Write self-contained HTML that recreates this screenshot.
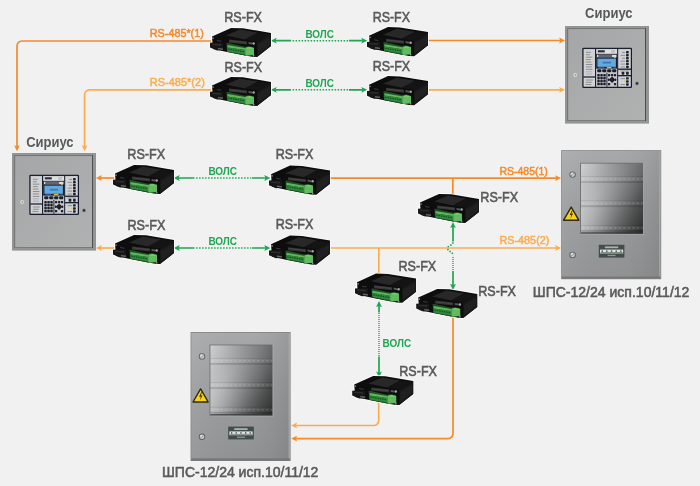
<!DOCTYPE html>
<html lang="ru">
<head>
<meta charset="utf-8">
<title>RS-FX</title>
<style>
  html, body { margin: 0; padding: 0; background: #f1f1f1; }
  body { width: 700px; height: 486px; overflow: hidden; font-family: "Liberation Sans", sans-serif; }
  svg { display: block; will-change: transform; }
  text { font-family: "Liberation Sans", sans-serif; }
  .lbl { fill: #58595b; font-size: 14.3px; stroke: #58595b; stroke-width: 0.55px; }
  .ttl { fill: #58595b; font-size: 14.5px; font-weight: bold; }
  .o1 { fill: #f58a28; font-size: 11.2px; stroke: #f58a28; stroke-width: 0.5px; }
  .o2 { fill: #fbad4e; font-size: 11.2px; stroke: #fbad4e; stroke-width: 0.5px; }
  .g  { fill: #1ea651; font-size: 11.5px; font-weight: bold; }
  .lo1 { stroke: #f58a28; stroke-width: 1.7; fill: none; }
  .lo2 { stroke: #fbad4e; stroke-width: 1.7; fill: none; }
  .lg  { stroke: #1ea651; stroke-width: 1.7; fill: none; }
  .lgd { stroke: #1ea651; stroke-width: 1.6; fill: none; stroke-dasharray: 1.5 1.5; }
  .ao1 { fill: #f58a28; }
  .ao2 { fill: #fbad4e; }
  .ag  { fill: #1ea651; }
</style>
</head>
<body>
<svg width="700" height="486" viewBox="0 0 700 486">
<defs>
  <!-- RS-FX device, 62 x 30 -->
  <g id="dev">
    <path d="M3,9 L22,0.4 L34,0.8 L62,5.4 L62,18.6 L48,29.6 L43,29.2 L18,24.6 L4,21.6 L1,20 L1,15.3 L3,15 Z" fill="#fafafa" stroke="#fafafa" stroke-width="1.6" stroke-linejoin="round"/>
    <path d="M3,9 L22,0.4 L34,0.8 L62,5.4 L62,18.6 L48,29.6 L43,29.2 L18,24.6 L4,21.6 Z" fill="#0d0d0d"/>
    <path d="M48,14.6 L62,5.8 L62,18.6 L48,29.6 Z" fill="#181818"/>
    <path d="M49,16.5 L61,9.2 L61,17.6 L49,26.4 Z" fill="#202020"/>
    <path d="M17,8 L31,2 L49,5 L36,12 Z" fill="#282828"/>
    <path d="M36,12 L49,5 L61.4,6.8 L48.4,14.2 Z" fill="#141414"/>
    <path d="M1,15.3 L4,15 L14,15.4 L14,22.5 L8,23 L1,20 Z" fill="#171717"/>
    <path d="M8,12.6 L12.4,13.2 L12.4,14.2 L8,13.6 Z" fill="#3c3c3c"/>
    <path d="M3,16.2 L12,16.6 L12,18.2 L3,17.6 Z" fill="#2c2c2c"/>
    <path d="M9,20.4 L14,21 L14,22.4 L9,21.8 Z" fill="#666"/>
    <path d="M20,12 L38,14 L38,17 L20,15 Z" fill="#363636"/>
    <path d="M21,13 L37,14.8 L37,15.6 L21,13.8 Z" fill="#4a4a4a"/>
    <path d="M39.5,14.4 L43,15 L43,17 L39.5,16.4 Z" fill="#555"/>
    <path d="M17.4,15.6 L18.6,15.3 L36,19.2 L40,18.6 L45,20 L45,27.6 L37,28.2 L18,24.2 Z" fill="#1d4f24"/>
    <path d="M18.4,17.5 L36,20.6 L36,22.6 L18.4,19.9 Z" fill="#5cb85a"/>
    <path d="M18.4,19.9 L36,22.6 L36,27 L18.4,23.9 Z" fill="#2f8a3b"/>
    <path d="M19.2,21.6 L35.4,24.3" stroke="#17501f" stroke-width="1.3" stroke-dasharray="1.4 1" fill="none"/>
    <path d="M36.2,20.6 L40,19.6 L45,20.6 L45,27.6 L37,28.2 L36.2,27 Z" fill="#5fbc5d"/>
    <path d="M36.2,20.6 L40,19.6 L45,20.6 L41,21.6 Z" fill="#74cc6e"/>
    <circle cx="39.4" cy="24.6" r="0.9" fill="#a99a8c"/>
    <circle cx="4" cy="10.6" r="0.9" fill="#8a8a8a"/>
    <circle cx="44.6" cy="16" r="1.25" fill="#a6a6a6"/>
    <circle cx="44.6" cy="28" r="0.9" fill="#8a8a8a"/>
  </g>

  <!-- Sirius panel, 84 x 98 -->
  <linearGradient id="sface" x1="0" y1="0" x2="1" y2="1">
    <stop offset="0" stop-color="#a5a6a7"/>
    <stop offset="1" stop-color="#b0b2b2"/>
  </linearGradient>
  <g id="sirius">
    <rect x="0" y="0" width="84" height="97.6" fill="#939494"/>
    <rect x="2.1" y="2.1" width="78.9" height="92.9" fill="#747476"/>
    <rect x="80" y="2.1" width="1" height="92.9" fill="#4c4c52"/>
    <rect x="3.2" y="3.1" width="76.8" height="91" fill="url(#sface)"/>
    <!-- latch left / lock right -->
    <circle cx="10.2" cy="49" r="1.9" fill="#dedacd"/><circle cx="10.4" cy="49" r="0.8" fill="#8a8270"/>
    <circle cx="72" cy="57.4" r="1.9" fill="#77787a"/><circle cx="72" cy="57.4" r="1.1" fill="#2c2c30"/>
    <!-- control face 50 x 41 -->
    <g transform="translate(17.3,21.7) scale(0.994,0.976)">
      <rect x="0" y="0" width="50" height="41.2" rx="1.2" fill="#171c2c"/>
      <rect x="1.3" y="1.3" width="47.4" height="38.6" fill="#bcbec2"/>
      <!-- left column -->
      <rect x="1.6" y="1.8" width="11.2" height="27.6" fill="#d0d2d4"/>
      <rect x="1.6" y="30.6" width="11.2" height="9" fill="#d0d2d4"/>
      <rect x="12.8" y="1" width="1.1" height="39" fill="#171c2c"/>
      <rect x="1" y="29.4" width="12" height="1.2" fill="#171c2c"/>
      <g fill="#8a8d93">
        <rect x="3.6" y="4.2" width="5" height="1"/><rect x="3.6" y="6.7" width="4" height="1"/>
        <rect x="3.6" y="9.2" width="6.5" height="1"/><rect x="3.6" y="11.7" width="5" height="1"/>
        <rect x="3.6" y="14.2" width="5.5" height="1"/><rect x="3.6" y="16.7" width="6.5" height="1"/>
        <rect x="3.6" y="19.2" width="6" height="1"/><rect x="3.6" y="21.7" width="6.5" height="1"/>
        <rect x="3.6" y="24.2" width="6" height="1" opacity="0.5"/><rect x="3.6" y="26.5" width="6" height="1" opacity="0.5"/>
        <rect x="3.6" y="32.6" width="7" height="1"/><rect x="3.6" y="34.9" width="6" height="1"/>
        <rect x="3.6" y="37.2" width="5.5" height="1"/>
      </g>
      <rect x="3" y="14" width="1.4" height="1.4" fill="#f2c33a"/>
      <rect x="3" y="37" width="1.3" height="1.3" fill="#8fc04a"/>
      <!-- middle column -->
      <rect x="14.4" y="1.8" width="20.4" height="4" fill="#dfe0e2"/>
      <rect x="15.6" y="2.6" width="7" height="2.2" fill="#2a2e3a"/>
      <rect x="29" y="2.4" width="4" height="2.8" fill="#bfc1c4"/>
      <rect x="14" y="6.4" width="21.2" height="15.2" fill="#171c2c"/>
      <rect x="14.8" y="7.2" width="19.6" height="2.6" fill="#e2e3e5"/>
      <rect x="16" y="7.8" width="14" height="1.4" fill="#2a2e3a"/>
      <rect x="32" y="9.2" width="1.6" height="1.6" fill="#f2c33a"/>
      <rect x="15.2" y="11.2" width="18.6" height="8.4" fill="#64a9de"/>
      <rect x="20.5" y="14.4" width="8.4" height="1.8" fill="#3a78b6"/>
      <rect x="24.6" y="19.9" width="4.8" height="1.2" fill="#f2d23a"/>
      <rect x="16" y="20.2" width="6" height="0.9" fill="#3d74b8"/><rect x="31" y="20.2" width="3" height="0.9" fill="#3d74b8"/>
      <rect x="14" y="21.6" width="21.2" height="4" fill="#c8cacd"/>
      <g fill="#1d202b">
        <rect x="15" y="22.1" width="4.2" height="3" rx="1"/><rect x="20" y="22.1" width="4.2" height="3" rx="1"/>
        <rect x="25" y="22.1" width="4.2" height="3" rx="1"/><rect x="30" y="22.1" width="4.2" height="3" rx="1"/>
      </g>
      <rect x="14.4" y="26.2" width="9.9" height="13.4" fill="#c8cacd"/>
      <rect x="25.2" y="26.2" width="9.6" height="13.4" fill="#c8cacd"/>
      <rect x="24.3" y="25.6" width="0.9" height="14.4" fill="#171c2c"/>
      <g fill="#1d202b">
        <rect x="15.1" y="27" width="2.5" height="2.5" rx="0.6"/><rect x="18.1" y="27" width="2.5" height="2.5" rx="0.6"/><rect x="21.1" y="27" width="2.5" height="2.5" rx="0.6"/>
        <rect x="15.1" y="30" width="2.5" height="2.5" rx="0.6"/><rect x="18.1" y="30" width="2.5" height="2.5" rx="0.6"/><rect x="21.1" y="30" width="2.5" height="2.5" rx="0.6"/>
        <rect x="15.1" y="33" width="2.5" height="2.5" rx="0.6"/><rect x="18.1" y="33" width="2.5" height="2.5" rx="0.6"/><rect x="21.1" y="33" width="2.5" height="2.5" rx="0.6"/>
        <rect x="15.1" y="36" width="2.5" height="2.5" rx="0.6"/><rect x="18.1" y="36" width="2.5" height="2.5" rx="0.6"/><rect x="21.1" y="36" width="2.5" height="2.5" rx="0.6"/>
        <rect x="25.8" y="27" width="2.3" height="2.3" rx="0.6"/><rect x="31.8" y="27" width="2.3" height="2.3" rx="0.6"/>
        <rect x="25.8" y="36.2" width="2.3" height="2.3" rx="0.6"/><rect x="31.8" y="36.2" width="2.3" height="2.3" rx="0.6"/>
        <path d="M30,29.4 L33.4,32.8 L30,36.2 L26.6,32.8 Z"/>
        <rect x="28.8" y="27" width="2.4" height="2.2" rx="0.6"/>
        <rect x="25.8" y="31.6" width="1.6" height="2.4" rx="0.6"/><rect x="32.6" y="31.6" width="1.6" height="2.4" rx="0.6"/>
      </g>
      <!-- right column -->
      <rect x="35.1" y="1" width="1.1" height="39" fill="#171c2c"/>
      <rect x="36.4" y="1.8" width="12" height="19.6" fill="#d0d2d4"/>
      <rect x="36.4" y="22.8" width="12" height="5.2" fill="#d0d2d4"/>
      <rect x="36.4" y="29.4" width="12" height="10.2" fill="#d0d2d4"/>
      <rect x="36" y="21.4" width="13" height="1.3" fill="#171c2c"/>
      <rect x="36" y="28" width="13" height="1.3" fill="#171c2c"/>
      <g fill="#8a8d93">
        <rect x="40" y="4.3" width="3" height="1"/><rect x="38.6" y="7.3" width="4.4" height="1"/>
        <rect x="40" y="10.3" width="3" height="1"/><rect x="38.6" y="13.3" width="4.4" height="1"/>
        <rect x="38.6" y="16.3" width="4.4" height="1"/><rect x="38.6" y="19.3" width="4.4" height="1"/>
        <rect x="38.6" y="31.2" width="4.4" height="1"/><rect x="38.6" y="37.2" width="4.4" height="1"/>
        <rect x="38" y="23.4" width="9" height="0.8"/>
      </g>
      <rect x="42" y="33.6" width="1.7" height="1.5" fill="#f2c33a"/>
      <g fill="#1d202b">
        <rect x="44" y="3.5" width="2.7" height="2.5" rx="0.7"/><rect x="44" y="6.5" width="2.7" height="2.5" rx="0.7"/>
        <rect x="44" y="9.5" width="2.7" height="2.5" rx="0.7"/><rect x="44" y="12.5" width="2.7" height="2.5" rx="0.7"/>
        <rect x="44" y="15.5" width="2.7" height="2.5" rx="0.7"/><rect x="44" y="18.5" width="2.7" height="2.5" rx="0.7"/>
        <rect x="39.6" y="24.6" width="2.7" height="3" rx="0.7"/><rect x="44" y="24.6" width="2.7" height="3" rx="0.7"/>
        <rect x="44" y="30.2" width="2.7" height="2.5" rx="0.7"/><rect x="44" y="33.3" width="2.7" height="2.5" rx="0.7"/>
        <rect x="44" y="36.4" width="2.7" height="2.5" rx="0.7"/>
      </g>
    </g>
  </g>

  <!-- SHPS cabinet 100 x 129 -->
  <linearGradient id="win" x1="0" y1="0" x2="1" y2="0">
    <stop offset="0" stop-color="#c4c5c6"/>
    <stop offset="0.2" stop-color="#b6b7b8"/>
    <stop offset="0.6" stop-color="#8f9091"/>
    <stop offset="1" stop-color="#6c6d6e"/>
  </linearGradient>
  <linearGradient id="winv" x1="0" y1="0" x2="1" y2="1">
    <stop offset="0" stop-color="#ffffff" stop-opacity="0.18"/>
    <stop offset="0.35" stop-color="#808080" stop-opacity="0"/>
    <stop offset="0.7" stop-color="#000000" stop-opacity="0.25"/>
    <stop offset="1" stop-color="#000000" stop-opacity="0.6"/>
  </linearGradient>
  <linearGradient id="cabh" x1="0" y1="0" x2="1" y2="0">
    <stop offset="0" stop-color="#fff" stop-opacity="0.07"/>
    <stop offset="0.5" stop-color="#888" stop-opacity="0"/>
    <stop offset="1" stop-color="#000" stop-opacity="0.09"/>
  </linearGradient>
  <linearGradient id="cab" x1="0" y1="0" x2="0" y2="1">
    <stop offset="0" stop-color="#a8a9aa"/>
    <stop offset="0.45" stop-color="#9b9c9d"/>
    <stop offset="1" stop-color="#919293"/>
  </linearGradient>
  <g id="screw">
    <circle cx="0" cy="0" r="3.2" fill="#5e5f60"/>
    <circle cx="0" cy="0" r="2.3" fill="#cdcecf"/>
    <path d="M-1.5,1.3 L1.5,-1.3" stroke="#7e7f80" stroke-width="0.9"/>
    <circle cx="-0.6" cy="-0.8" r="0.8" fill="#ededed"/>
  </g>
  <g id="rail">
    <rect x="19.8" y="-2.9" width="62.2" height="0.9" fill="#000" opacity="0.09"/>
    <rect x="19.8" y="-2" width="62.2" height="4.2" fill="#fff" opacity="0.04"/>
    <rect x="19.8" y="2.2" width="62.2" height="1.7" fill="#000" opacity="0.15"/>
    <path d="M21,0 H81.6" stroke="#fff" stroke-width="1.1" stroke-dasharray="2.3 2.25" opacity="0.2" fill="none"/>
  </g>
  <g id="shps">
    <rect x="0" y="0" width="100" height="129" fill="#7c7d7f"/>
    <rect x="0.7" y="0.7" width="98.6" height="127.4" fill="url(#cab)"/>
    <rect x="0.7" y="0.7" width="98.6" height="127.4" fill="url(#cabh)"/>
    <rect x="98" y="0.7" width="1.3" height="127.4" fill="#a8a9aa"/>
    <rect x="0.7" y="126.4" width="98.6" height="1.8" fill="#757677"/>
    <rect x="19" y="12.6" width="63" height="71.2" fill="#6a6b6c"/>
    <rect x="19.8" y="13.4" width="62.2" height="70" fill="url(#win)"/>
    <rect x="19.8" y="13.4" width="62.2" height="70" fill="url(#winv)"/>
    <use href="#rail" y="28.8"/>
    <use href="#rail" y="53"/>
    <use href="#rail" y="77.7"/>
    <rect x="19.8" y="82" width="62.2" height="1.4" fill="#2e3031" opacity="0.7"/>
    <rect x="82" y="12.6" width="0.9" height="71.2" fill="#a9aaab"/>
    <rect x="19" y="83.8" width="63.8" height="0.9" fill="#a3a4a5"/>
    <!-- screws -->
    <use href="#screw" x="11.4" y="24.4"/>
    <use href="#screw" x="11.4" y="104.7"/>
    <!-- warning -->
    <path d="M10,56.9 L17.6,70 L2.4,70 Z" fill="#f6d21c" stroke="#2e2a14" stroke-width="1.4" stroke-linejoin="round"/>
    <path d="M10.7,60.2 L8.5,64.7 L10.3,64.5 L9.1,68.6 L11.9,63.4 L10.1,63.6 L11.5,60.2 Z" fill="#2a2410"/>
    <!-- label plate -->
    <rect x="37.6" y="94.6" width="25.6" height="12.8" fill="#414d48"/>
    <rect x="38.8" y="99.4" width="23.2" height="3.8" fill="#dfe1e2"/>
    <g fill="#2f3a36"><rect x="40.4" y="100.3" width="1.3" height="1.3"/><rect x="45" y="100.3" width="1.3" height="1.3"/><rect x="49.7" y="100.3" width="1.3" height="1.3"/><rect x="54.4" y="100.3" width="1.3" height="1.3"/><rect x="59" y="100.3" width="1.3" height="1.3"/></g>
    <rect x="39.4" y="101.9" width="22" height="0.8" fill="#6c7672"/>
    <rect x="43.6" y="96.2" width="13.4" height="1.8" fill="#aab1ae"/>
    <rect x="46.4" y="104.6" width="8" height="1.3" fill="#8c9591"/>
  </g>
</defs>

<!-- ================= LINES ================= -->
<path class="lo1" d="M213.5,41 H22 a5,5 0 0 0 -5,5 V147"/>
<path class="ao1" transform="translate(17,151) rotate(90)" d="M0.3,0 L-5.7,-2.9 L-4.5,0 L-5.7,2.9 Z"/>
<path class="lo2" d="M213.5,89.8 H89.6 a5,5 0 0 0 -5,5 V147"/>
<path class="ao2" transform="translate(84.6,151) rotate(90)" d="M0.3,0 L-5.7,-2.9 L-4.5,0 L-5.7,2.9 Z"/>
<path class="lo1" d="M427,40.5 H561"/>
<path class="ao1" transform="translate(564.8,40.5) rotate(0)" d="M0.3,0 L-5.7,-2.9 L-4.5,0 L-5.7,2.9 Z"/>
<path class="lo2" d="M427,89.8 H561"/>
<path class="ao2" transform="translate(564.8,89.8) rotate(0)" d="M0.3,0 L-5.7,-2.9 L-4.5,0 L-5.7,2.9 Z"/>
<path class="lg" d="M275,40.7 H291 M349,40.7 H363"/>
<path class="lgd" d="M292.6,40.7 H348.2"/>
<path class="ag" transform="translate(271,40.7) rotate(180)" d="M0.3,0 L-5.7,-2.9 L-4.5,0 L-5.7,2.9 Z"/>
<path class="ag" transform="translate(367,40.7) rotate(0)" d="M0.3,0 L-5.7,-2.9 L-4.5,0 L-5.7,2.9 Z"/>
<path class="lg" d="M275,89.8 H291 M349,89.8 H363"/>
<path class="lgd" d="M292.6,89.8 H348.2"/>
<path class="ag" transform="translate(271,89.8) rotate(180)" d="M0.3,0 L-5.7,-2.9 L-4.5,0 L-5.7,2.9 Z"/>
<path class="ag" transform="translate(367,89.8) rotate(0)" d="M0.3,0 L-5.7,-2.9 L-4.5,0 L-5.7,2.9 Z"/>
<path class="lo1" d="M100,178 H116.5"/>
<path class="ao1" transform="translate(96.2,178) rotate(180)" d="M0.3,0 L-5.7,-2.9 L-4.5,0 L-5.7,2.9 Z"/>
<path class="lo2" d="M100,248 H116.5"/>
<path class="ao2" transform="translate(96.2,248) rotate(180)" d="M0.3,0 L-5.7,-2.9 L-4.5,0 L-5.7,2.9 Z"/>
<path class="lg" d="M178,178 H194.5 M252,178 H266"/>
<path class="lgd" d="M196.1,178 H251.2"/>
<path class="ag" transform="translate(174,178) rotate(180)" d="M0.3,0 L-5.7,-2.9 L-4.5,0 L-5.7,2.9 Z"/>
<path class="ag" transform="translate(270,178) rotate(0)" d="M0.3,0 L-5.7,-2.9 L-4.5,0 L-5.7,2.9 Z"/>
<path class="lg" d="M178,248 H194.5 M252,248 H266"/>
<path class="lgd" d="M196.1,248 H251.2"/>
<path class="ag" transform="translate(174,248) rotate(180)" d="M0.3,0 L-5.7,-2.9 L-4.5,0 L-5.7,2.9 Z"/>
<path class="ag" transform="translate(270,248) rotate(0)" d="M0.3,0 L-5.7,-2.9 L-4.5,0 L-5.7,2.9 Z"/>
<path class="lo1" d="M329,178.1 H557"/>
<path class="ao1" transform="translate(560.8,178.1) rotate(0)" d="M0.3,0 L-5.7,-2.9 L-4.5,0 L-5.7,2.9 Z"/>
<path class="lo2" d="M329,248 H557"/>
<path class="ao2" transform="translate(560.8,248) rotate(0)" d="M0.3,0 L-5.7,-2.9 L-4.5,0 L-5.7,2.9 Z"/>
<path class="lo1" d="M452.8,178.1 V197"/>
<path class="lo2" d="M378.8,248 V277"/>
<path class="lg" d="M453,226 V241.4 M453,271 V285.5"/>
<path class="lgd" d="M453,242.2 C453,246 447.7,244.6 447.7,248.2 C447.7,252 453,251 453,255.8"/>
<path class="lgd" style="stroke-dasharray:1 1;stroke-width:1.4" d="M453,257 V271"/>
<path class="ag" transform="translate(453,222.2) rotate(270)" d="M0.3,0 L-5.7,-2.9 L-4.5,0 L-5.7,2.9 Z"/>
<path class="ag" transform="translate(453,289.6) rotate(90)" d="M0.3,0 L-5.7,-2.9 L-4.5,0 L-5.7,2.9 Z"/>
<path class="lg" d="M379,305 V312.5 M379,356.5 V373"/>
<path class="lgd" style="stroke-dasharray:1 1;stroke-width:1.4" d="M379,313 V356.4"/>
<path class="ag" transform="translate(379,301.4) rotate(270)" d="M0.3,0 L-5.7,-2.9 L-4.5,0 L-5.7,2.9 Z"/>
<path class="ag" transform="translate(379,377.2) rotate(90)" d="M0.3,0 L-5.7,-2.9 L-4.5,0 L-5.7,2.9 Z"/>
<path class="lo2" d="M378.7,402 V420.5 a5,5 0 0 1 -5,5 H295"/>
<path class="ao2" transform="translate(291.4,425.5) rotate(180)" d="M0.3,0 L-5.7,-2.9 L-4.5,0 L-5.7,2.9 Z"/>
<path class="lo1" d="M453,316 V433.6 a5,5 0 0 1 -5,5 H295"/>
<path class="ao1" transform="translate(291.4,438.6) rotate(180)" d="M0.3,0 L-5.7,-2.9 L-4.5,0 L-5.7,2.9 Z"/>

<!-- ================= DEVICES ================= -->
<use href="#dev" x="209" y="27.5"/>
<use href="#dev" x="209" y="76.5"/>
<use href="#dev" x="366" y="26.7"/>
<use href="#dev" x="366" y="75.7"/>
<use href="#dev" x="112" y="164.5"/>
<use href="#dev" x="112" y="234.5"/>
<use href="#dev" x="268" y="165.2"/>
<use href="#dev" x="268" y="235.2"/>
<use href="#dev" x="417" y="193.5"/>
<use href="#dev" x="354" y="273.2"/>
<use href="#dev" x="415.2" y="288.5"/>
<use href="#dev" x="351.2" y="375.5"/>

<use href="#sirius" x="12" y="153"/>
<use href="#sirius" x="565" y="26"/>
<use href="#shps" x="561.2" y="150.2"/>
<use href="#shps" x="190.6" y="332"/>

<!-- ================= TEXT ================= -->
<text class="lbl" x="224.2" y="21.5" textLength="37.8" lengthAdjust="spacingAndGlyphs">RS-FX</text>
<text class="lbl" x="372.7" y="22.4" textLength="37.3" lengthAdjust="spacingAndGlyphs">RS-FX</text>
<text class="lbl" x="224.5" y="71.9" textLength="37.6" lengthAdjust="spacingAndGlyphs">RS-FX</text>
<text class="lbl" x="372.7" y="71.1" textLength="37.5" lengthAdjust="spacingAndGlyphs">RS-FX</text>
<text class="lbl" x="127.3" y="158.5" textLength="37.9" lengthAdjust="spacingAndGlyphs">RS-FX</text>
<text class="lbl" x="127.5" y="230.2" textLength="37.9" lengthAdjust="spacingAndGlyphs">RS-FX</text>
<text class="lbl" x="275.7" y="159.1" textLength="37.7" lengthAdjust="spacingAndGlyphs">RS-FX</text>
<text class="lbl" x="275.7" y="229.1" textLength="37.7" lengthAdjust="spacingAndGlyphs">RS-FX</text>
<text class="lbl" x="480.3" y="201.5" textLength="37.9" lengthAdjust="spacingAndGlyphs">RS-FX</text>
<text class="lbl" x="398.5" y="271.1" textLength="37.7" lengthAdjust="spacingAndGlyphs">RS-FX</text>
<text class="lbl" x="478.3" y="296.1" textLength="37.7" lengthAdjust="spacingAndGlyphs">RS-FX</text>
<text class="lbl" x="399.3" y="376.1" textLength="37.7" lengthAdjust="spacingAndGlyphs">RS-FX</text>

<text class="ttl" x="26.2" y="147.1" textLength="47.4" lengthAdjust="spacingAndGlyphs">Сириус</text>
<text class="ttl" x="585" y="18.3" textLength="47.6" lengthAdjust="spacingAndGlyphs">Сириус</text>

<text class="lbl" x="532.8" y="296.6" textLength="156.6" lengthAdjust="spacingAndGlyphs" style="font-size:14.2px">ШПС-12/24 исп.10/11/12</text>
<text class="lbl" x="162" y="476.6" textLength="156.4" lengthAdjust="spacingAndGlyphs" style="font-size:14.2px">ШПС-12/24 исп.10/11/12</text>

<text class="o1" x="149.8" y="36.8" textLength="54" lengthAdjust="spacingAndGlyphs">RS-485*(1)</text>
<text class="o2" x="149.8" y="86.2" textLength="55" lengthAdjust="spacingAndGlyphs">RS-485*(2)</text>
<text class="o1" x="499.4" y="175.1" textLength="48.4" lengthAdjust="spacingAndGlyphs">RS-485(1)</text>
<text class="o2" x="499.4" y="244.1" textLength="50" lengthAdjust="spacingAndGlyphs">RS-485(2)</text>

<text class="g" x="305.4" y="37.5" textLength="28.6" lengthAdjust="spacingAndGlyphs">ВОЛС</text>
<text class="g" x="305.4" y="86.5" textLength="28.6" lengthAdjust="spacingAndGlyphs">ВОЛС</text>
<text class="g" x="208.4" y="174.9" textLength="28.7" lengthAdjust="spacingAndGlyphs">ВОЛС</text>
<text class="g" x="208.4" y="244.9" textLength="28.7" lengthAdjust="spacingAndGlyphs">ВОЛС</text>
<text class="g" x="382.6" y="347.2" textLength="28.6" lengthAdjust="spacingAndGlyphs">ВОЛС</text>

</svg>
</body>
</html>
